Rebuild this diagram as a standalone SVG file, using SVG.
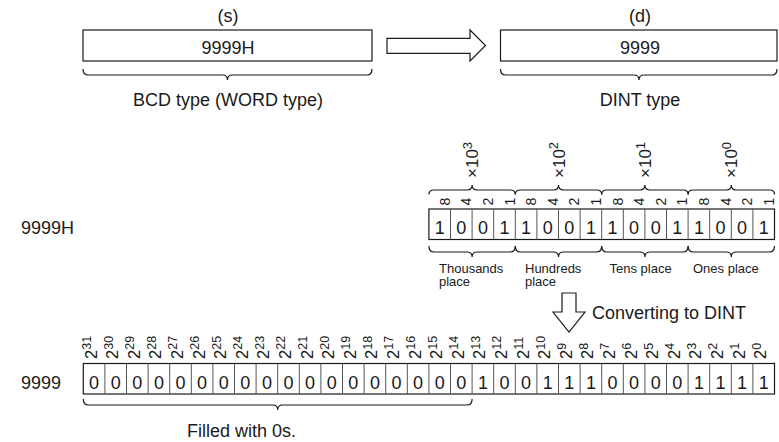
<svg xmlns="http://www.w3.org/2000/svg" width="779" height="442" viewBox="0 0 779 442">
<style>
text{font-family:"Liberation Sans",Arial,sans-serif;fill:#1a1a1a}
.big{font-size:18px}
.mid{font-size:13px}
.bit{font-size:18px;text-anchor:middle}
.lbl{font-size:14px;text-anchor:middle;dominant-baseline:central}
.exp{font-size:16.5px}
.sup{font-size:12.5px}
.pw{font-size:17px}
.psup{font-size:13px}
.c{text-anchor:middle}
.box{fill:#fff;stroke:#1a1a1a;stroke-width:1.2}
.div{stroke:#555;stroke-width:1}
.brace{fill:none;stroke:#1a1a1a;stroke-width:1.2}
.arrow{fill:#fff;stroke:#1a1a1a;stroke-width:1.2;stroke-linejoin:miter}
</style>

<g id="source">
<text class="big c" x="228" y="22">(s)</text>
<rect class="box" x="83" y="30" width="289" height="31"/>
<text class="big c" x="228" y="54">9999H</text>
<text class="big c" x="228" y="106">BCD type (WORD type)</text>
</g>

<g id="dest">
<text class="big c" x="640" y="22">(d)</text>
<rect class="box" x="500.5" y="30" width="276.5" height="31"/>
<text class="big c" x="640" y="54">9999</text>
<text class="big c" x="640" y="106">DINT type</text>
</g>

<g id="bcd-bits">
<text class="big" x="21" y="233.5">9999H</text>
<rect class="box" x="428.9" y="209" width="345.6" height="30.5"/>
<path class="div" d="M450.5 209V239.5M472.1 209V239.5M493.7 209V239.5M515.3 209V239.5M536.9 209V239.5M558.5 209V239.5M580.1 209V239.5M601.7 209V239.5M623.3 209V239.5M644.9 209V239.5M666.5 209V239.5M688.1 209V239.5M709.7 209V239.5M731.3 209V239.5M752.9 209V239.5"/>
<text class="bit" x="439.7" y="233.5">1</text>
<text class="bit" x="461.3" y="233.5">0</text>
<text class="bit" x="482.9" y="233.5">0</text>
<text class="bit" x="504.5" y="233.5">1</text>
<text class="bit" x="526.1" y="233.5">1</text>
<text class="bit" x="547.7" y="233.5">0</text>
<text class="bit" x="569.3" y="233.5">0</text>
<text class="bit" x="590.9" y="233.5">1</text>
<text class="bit" x="612.5" y="233.5">1</text>
<text class="bit" x="634.1" y="233.5">0</text>
<text class="bit" x="655.7" y="233.5">0</text>
<text class="bit" x="677.3" y="233.5">1</text>
<text class="bit" x="698.9" y="233.5">1</text>
<text class="bit" x="720.5" y="233.5">0</text>
<text class="bit" x="742.1" y="233.5">0</text>
<text class="bit" x="763.7" y="233.5">1</text>
<g id="weights">
<text class="lbl" transform="translate(444.7,201.5) rotate(-90)">8</text>
<text class="lbl" transform="translate(466.3,201.5) rotate(-90)">4</text>
<text class="lbl" transform="translate(487.9,201.5) rotate(-90)">2</text>
<text class="lbl" transform="translate(509.5,201.5) rotate(-90)">1</text>
<text class="lbl" transform="translate(531.1,201.5) rotate(-90)">8</text>
<text class="lbl" transform="translate(552.7,201.5) rotate(-90)">4</text>
<text class="lbl" transform="translate(574.3,201.5) rotate(-90)">2</text>
<text class="lbl" transform="translate(595.9,201.5) rotate(-90)">1</text>
<text class="lbl" transform="translate(617.5,201.5) rotate(-90)">8</text>
<text class="lbl" transform="translate(639.1,201.5) rotate(-90)">4</text>
<text class="lbl" transform="translate(660.7,201.5) rotate(-90)">2</text>
<text class="lbl" transform="translate(682.3,201.5) rotate(-90)">1</text>
<text class="lbl" transform="translate(703.9,201.5) rotate(-90)">8</text>
<text class="lbl" transform="translate(725.5,201.5) rotate(-90)">4</text>
<text class="lbl" transform="translate(747.1,201.5) rotate(-90)">2</text>
<text class="lbl" transform="translate(768.7,201.5) rotate(-90)">1</text>
</g>
<g id="powers">
<text class="pw" transform="translate(478.2,178) rotate(-90)">×10<tspan class="psup" dy="-6.5">3</tspan></text>
<text class="pw" transform="translate(564.6,178) rotate(-90)">×10<tspan class="psup" dy="-6.5">2</tspan></text>
<text class="pw" transform="translate(651,178) rotate(-90)">×10<tspan class="psup" dy="-6.5">1</tspan></text>
<text class="pw" transform="translate(737.4,178) rotate(-90)">×10<tspan class="psup" dy="-6.5">0</tspan></text>
</g>
<g id="places">
<text class="mid" x="439" y="272.5">Thousands</text>
<text class="mid" x="439" y="286">place</text>
<text class="mid" x="525" y="272.5">Hundreds</text>
<text class="mid" x="525" y="286">place</text>
<text class="mid" x="609.5" y="272.5">Tens place</text>
<text class="mid" x="693" y="272.5">Ones place</text>
</g>
</g>

<g id="dint-bits">
<text class="big" x="21" y="388.5">9999</text>
<rect class="box" x="83.3" y="363.5" width="691.2" height="30.5"/>
<path class="div" d="M104.9 363.5V394M126.5 363.5V394M148.1 363.5V394M169.7 363.5V394M191.3 363.5V394M212.9 363.5V394M234.5 363.5V394M256.1 363.5V394M277.7 363.5V394M299.3 363.5V394M320.9 363.5V394M342.5 363.5V394M364.1 363.5V394M385.7 363.5V394M407.3 363.5V394M428.9 363.5V394M450.5 363.5V394M472.1 363.5V394M493.7 363.5V394M515.3 363.5V394M536.9 363.5V394M558.5 363.5V394M580.1 363.5V394M601.7 363.5V394M623.3 363.5V394M644.9 363.5V394M666.5 363.5V394M688.1 363.5V394M709.7 363.5V394M731.3 363.5V394M752.9 363.5V394"/>
<text class="bit" x="94.1" y="388.5">0</text>
<text class="bit" x="115.7" y="388.5">0</text>
<text class="bit" x="137.3" y="388.5">0</text>
<text class="bit" x="158.9" y="388.5">0</text>
<text class="bit" x="180.5" y="388.5">0</text>
<text class="bit" x="202.1" y="388.5">0</text>
<text class="bit" x="223.7" y="388.5">0</text>
<text class="bit" x="245.3" y="388.5">0</text>
<text class="bit" x="266.9" y="388.5">0</text>
<text class="bit" x="288.5" y="388.5">0</text>
<text class="bit" x="310.1" y="388.5">0</text>
<text class="bit" x="331.7" y="388.5">0</text>
<text class="bit" x="353.3" y="388.5">0</text>
<text class="bit" x="374.9" y="388.5">0</text>
<text class="bit" x="396.5" y="388.5">0</text>
<text class="bit" x="418.1" y="388.5">0</text>
<text class="bit" x="439.7" y="388.5">0</text>
<text class="bit" x="461.3" y="388.5">0</text>
<text class="bit" x="482.9" y="388.5">1</text>
<text class="bit" x="504.5" y="388.5">0</text>
<text class="bit" x="526.1" y="388.5">0</text>
<text class="bit" x="547.7" y="388.5">1</text>
<text class="bit" x="569.3" y="388.5">1</text>
<text class="bit" x="590.9" y="388.5">1</text>
<text class="bit" x="612.5" y="388.5">0</text>
<text class="bit" x="634.1" y="388.5">0</text>
<text class="bit" x="655.7" y="388.5">0</text>
<text class="bit" x="677.3" y="388.5">0</text>
<text class="bit" x="698.9" y="388.5">1</text>
<text class="bit" x="720.5" y="388.5">1</text>
<text class="bit" x="742.1" y="388.5">1</text>
<text class="bit" x="763.7" y="388.5">1</text>
<g id="exponents">
<text class="exp" transform="translate(96.5,359) rotate(-90)">2<tspan class="sup" dy="-5.5">31</tspan></text>
<text class="exp" transform="translate(118.1,359) rotate(-90)">2<tspan class="sup" dy="-5.5">30</tspan></text>
<text class="exp" transform="translate(139.7,359) rotate(-90)">2<tspan class="sup" dy="-5.5">29</tspan></text>
<text class="exp" transform="translate(161.3,359) rotate(-90)">2<tspan class="sup" dy="-5.5">28</tspan></text>
<text class="exp" transform="translate(182.9,359) rotate(-90)">2<tspan class="sup" dy="-5.5">27</tspan></text>
<text class="exp" transform="translate(204.5,359) rotate(-90)">2<tspan class="sup" dy="-5.5">26</tspan></text>
<text class="exp" transform="translate(226.1,359) rotate(-90)">2<tspan class="sup" dy="-5.5">25</tspan></text>
<text class="exp" transform="translate(247.7,359) rotate(-90)">2<tspan class="sup" dy="-5.5">24</tspan></text>
<text class="exp" transform="translate(269.3,359) rotate(-90)">2<tspan class="sup" dy="-5.5">23</tspan></text>
<text class="exp" transform="translate(290.9,359) rotate(-90)">2<tspan class="sup" dy="-5.5">22</tspan></text>
<text class="exp" transform="translate(312.5,359) rotate(-90)">2<tspan class="sup" dy="-5.5">21</tspan></text>
<text class="exp" transform="translate(334.1,359) rotate(-90)">2<tspan class="sup" dy="-5.5">20</tspan></text>
<text class="exp" transform="translate(355.7,359) rotate(-90)">2<tspan class="sup" dy="-5.5">19</tspan></text>
<text class="exp" transform="translate(377.3,359) rotate(-90)">2<tspan class="sup" dy="-5.5">18</tspan></text>
<text class="exp" transform="translate(398.9,359) rotate(-90)">2<tspan class="sup" dy="-5.5">17</tspan></text>
<text class="exp" transform="translate(420.5,359) rotate(-90)">2<tspan class="sup" dy="-5.5">16</tspan></text>
<text class="exp" transform="translate(442.1,359) rotate(-90)">2<tspan class="sup" dy="-5.5">15</tspan></text>
<text class="exp" transform="translate(463.7,359) rotate(-90)">2<tspan class="sup" dy="-5.5">14</tspan></text>
<text class="exp" transform="translate(485.3,359) rotate(-90)">2<tspan class="sup" dy="-5.5">13</tspan></text>
<text class="exp" transform="translate(506.9,359) rotate(-90)">2<tspan class="sup" dy="-5.5">12</tspan></text>
<text class="exp" transform="translate(528.5,359) rotate(-90)">2<tspan class="sup" dy="-5.5">11</tspan></text>
<text class="exp" transform="translate(550.1,359) rotate(-90)">2<tspan class="sup" dy="-5.5">10</tspan></text>
<text class="exp" transform="translate(571.7,359) rotate(-90)">2<tspan class="sup" dy="-5.5">9</tspan></text>
<text class="exp" transform="translate(593.3,359) rotate(-90)">2<tspan class="sup" dy="-5.5">8</tspan></text>
<text class="exp" transform="translate(614.9,359) rotate(-90)">2<tspan class="sup" dy="-5.5">7</tspan></text>
<text class="exp" transform="translate(636.5,359) rotate(-90)">2<tspan class="sup" dy="-5.5">6</tspan></text>
<text class="exp" transform="translate(658.1,359) rotate(-90)">2<tspan class="sup" dy="-5.5">5</tspan></text>
<text class="exp" transform="translate(679.7,359) rotate(-90)">2<tspan class="sup" dy="-5.5">4</tspan></text>
<text class="exp" transform="translate(701.3,359) rotate(-90)">2<tspan class="sup" dy="-5.5">3</tspan></text>
<text class="exp" transform="translate(722.9,359) rotate(-90)">2<tspan class="sup" dy="-5.5">2</tspan></text>
<text class="exp" transform="translate(744.5,359) rotate(-90)">2<tspan class="sup" dy="-5.5">1</tspan></text>
<text class="exp" transform="translate(766.1,359) rotate(-90)">2<tspan class="sup" dy="-5.5">0</tspan></text>
</g>
<text class="big" x="187" y="437">Filled with 0s.</text>
</g>

<g id="connectors">
<polygon class="arrow" points="387,38.3 470,38.3 470,30 485.5,45.5 470,61 470,53.3 387,53.3"/>
<polygon class="arrow" points="562,293 576,293 576,312 585,312 569,332 553,312 562,312"/>
<text class="big" x="592" y="319">Converting to DINT</text>
<path class="brace" d="M83 69Q83 75 88 75H222.5Q227.5 75 227.5 80Q227.5 75 232.5 75H367Q372 75 372 69"/>
<path class="brace" d="M500.5 69Q500.5 75 505.5 75H634Q639 75 639 80Q639 75 644 75H772Q777 75 777 69"/>
<path class="brace" d="M428.9 194.5Q428.9 190 433.9 190H467.1Q472.1 190 472.1 185Q472.1 190 477.1 190H510.3Q515.3 190 515.3 194.5"/>
<path class="brace" d="M515.3 194.5Q515.3 190 520.3 190H553.5Q558.5 190 558.5 185Q558.5 190 563.5 190H596.7Q601.7 190 601.7 194.5"/>
<path class="brace" d="M601.7 194.5Q601.7 190 606.7 190H639.9Q644.9 190 644.9 185Q644.9 190 649.9 190H683.1Q688.1 190 688.1 194.5"/>
<path class="brace" d="M688.1 194.5Q688.1 190 693.1 190H726.3Q731.3 190 731.3 185Q731.3 190 736.3 190H769.5Q774.5 190 774.5 194.5"/>
<path class="brace" d="M428.9 246Q428.9 252 433.9 252H467.1Q472.1 252 472.1 257Q472.1 252 477.1 252H510.3Q515.3 252 515.3 246"/>
<path class="brace" d="M515.3 246Q515.3 252 520.3 252H553.5Q558.5 252 558.5 257Q558.5 252 563.5 252H596.7Q601.7 252 601.7 246"/>
<path class="brace" d="M601.7 246Q601.7 252 606.7 252H639.9Q644.9 252 644.9 257Q644.9 252 649.9 252H683.1Q688.1 252 688.1 246"/>
<path class="brace" d="M688.1 246Q688.1 252 693.1 252H726.3Q731.3 252 731.3 257Q731.3 252 736.3 252H769.5Q774.5 252 774.5 246"/>
<path class="brace" d="M83.3 399Q83.3 405 88.3 405H272.7Q277.7 405 277.7 410Q277.7 405 282.7 405H467.1Q472.1 405 472.1 399"/>
</g>
</svg>
